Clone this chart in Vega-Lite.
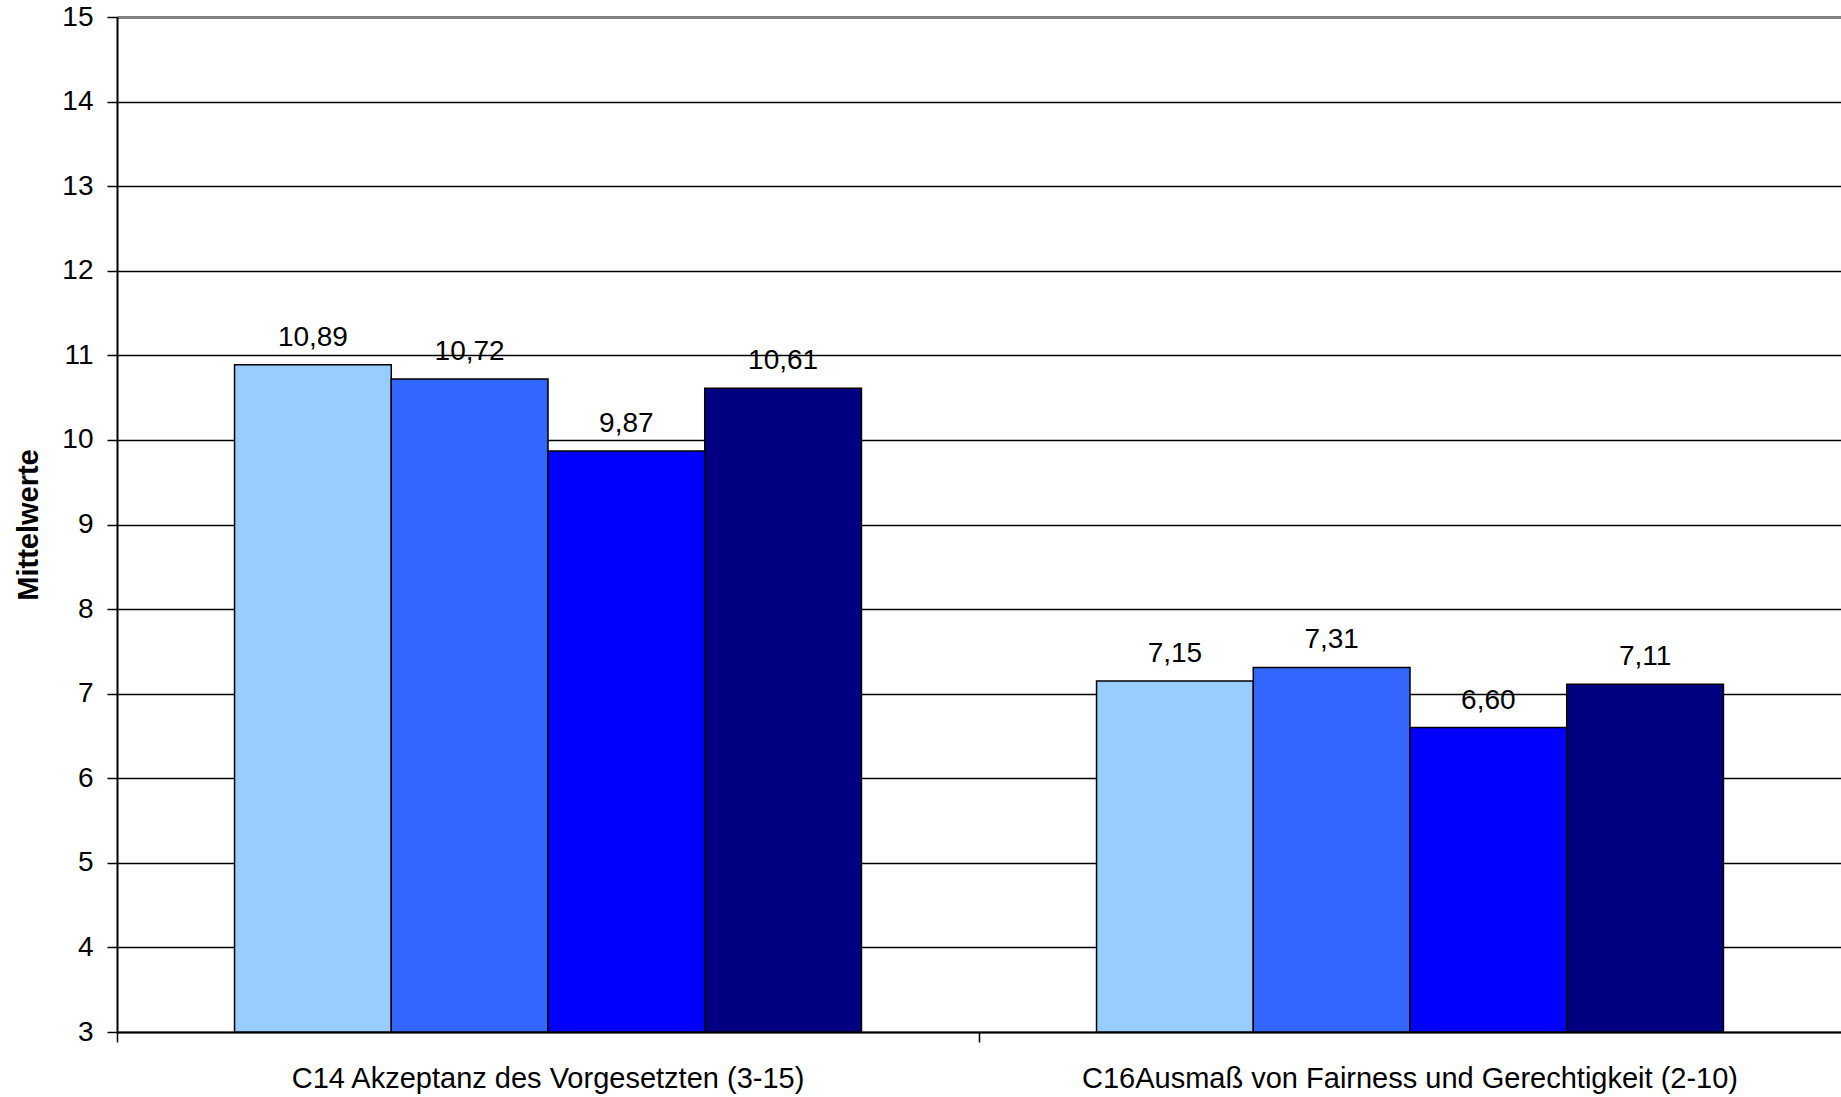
{
  "$schema": "https://vega.github.io/schema/vega-lite/v6.json",
  "autosize": {"type": "none"},
  "width": 1724,
  "height": 1015,
  "padding": {"left": 117, "top": 17, "right": 0, "bottom": 65},
  "background": "white",
  "config": {
    "locale": {"number": {"decimal": ",", "thousands": ".", "grouping": [3], "currency": ["", " €"]}},
    "font": "Liberation Sans",
    "view": {"stroke": null}
  },
  "data": {
    "values": [
      {"kategorie": "C14 Akzeptanz des Vorgesetzten (3-15)", "gruppe": "1", "mittelwert": 10.89},
      {"kategorie": "C14 Akzeptanz des Vorgesetzten (3-15)", "gruppe": "2", "mittelwert": 10.72},
      {"kategorie": "C14 Akzeptanz des Vorgesetzten (3-15)", "gruppe": "3", "mittelwert": 9.87},
      {"kategorie": "C14 Akzeptanz des Vorgesetzten (3-15)", "gruppe": "4", "mittelwert": 10.61},
      {"kategorie": "C16Ausmaß von Fairness und Gerechtigkeit (2-10)", "gruppe": "1", "mittelwert": 7.15},
      {"kategorie": "C16Ausmaß von Fairness und Gerechtigkeit (2-10)", "gruppe": "2", "mittelwert": 7.31},
      {"kategorie": "C16Ausmaß von Fairness und Gerechtigkeit (2-10)", "gruppe": "3", "mittelwert": 6.60},
      {"kategorie": "C16Ausmaß von Fairness und Gerechtigkeit (2-10)", "gruppe": "4", "mittelwert": 7.11}
    ]
  },
  "encoding": {
    "x": {
      "field": "kategorie",
      "type": "nominal",
      "sort": null,
      "scale": {"paddingInner": 0, "paddingOuter": 0},
      "axis": {
        "title": null,
        "labelAngle": 0,
        "labelFontSize": 29,
        "labelColor": "black",
        "labelPadding": 22,
        "labelLimit": 0,
        "bandPosition": 0,
        "tickSize": 10,
        "tickColor": "black",
        "tickWidth": 1.5,
        "domainColor": "black",
        "domainWidth": 2,
        "grid": false
      }
    },
    "xOffset": {
      "field": "gruppe",
      "type": "nominal",
      "scale": {"paddingInner": 0, "paddingOuter": 0.75}
    },
    "y": {
      "field": "mittelwert",
      "type": "quantitative",
      "scale": {"domain": [3, 15], "zero": false, "nice": false},
      "axis": {
        "title": "Mittelwerte",
        "titleFontSize": 29,
        "titleFontWeight": "bold",
        "titleColor": "black",
        "titlePadding": 18,
        "values": [3, 4, 5, 6, 7, 8, 9, 10, 11, 12, 13, 14, 15],
        "labelFontSize": 28,
        "labelColor": "black",
        "labelPadding": 14,
        "tickSize": 10,
        "tickColor": "black",
        "tickWidth": 1.5,
        "domainColor": "black",
        "domainWidth": 2,
        "grid": true,
        "gridColor": {"condition": {"test": "datum.value === 15", "value": "#808080"}, "value": "black"},
        "gridWidth": {"condition": {"test": "datum.value === 15", "value": 3}, "value": 1.6},
        "gridOpacity": 1
      }
    }
  },
  "layer": [
    {
      "mark": {"type": "bar", "stroke": "black", "strokeWidth": 1.5},
      "encoding": {
        "y2": {"datum": 3},
        "color": {
          "field": "gruppe",
          "type": "nominal",
          "scale": {"domain": ["1", "2", "3", "4"], "range": ["#99CCFF", "#3366FF", "#0000FF", "#000080"]},
          "legend": null
        }
      }
    },
    {
      "mark": {"type": "text", "baseline": "alphabetic", "align": "center", "dy": -19, "fontSize": 28, "color": "black"},
      "encoding": {
        "text": {"field": "mittelwert", "type": "quantitative", "format": ".2f"}
      }
    }
  ]
}
